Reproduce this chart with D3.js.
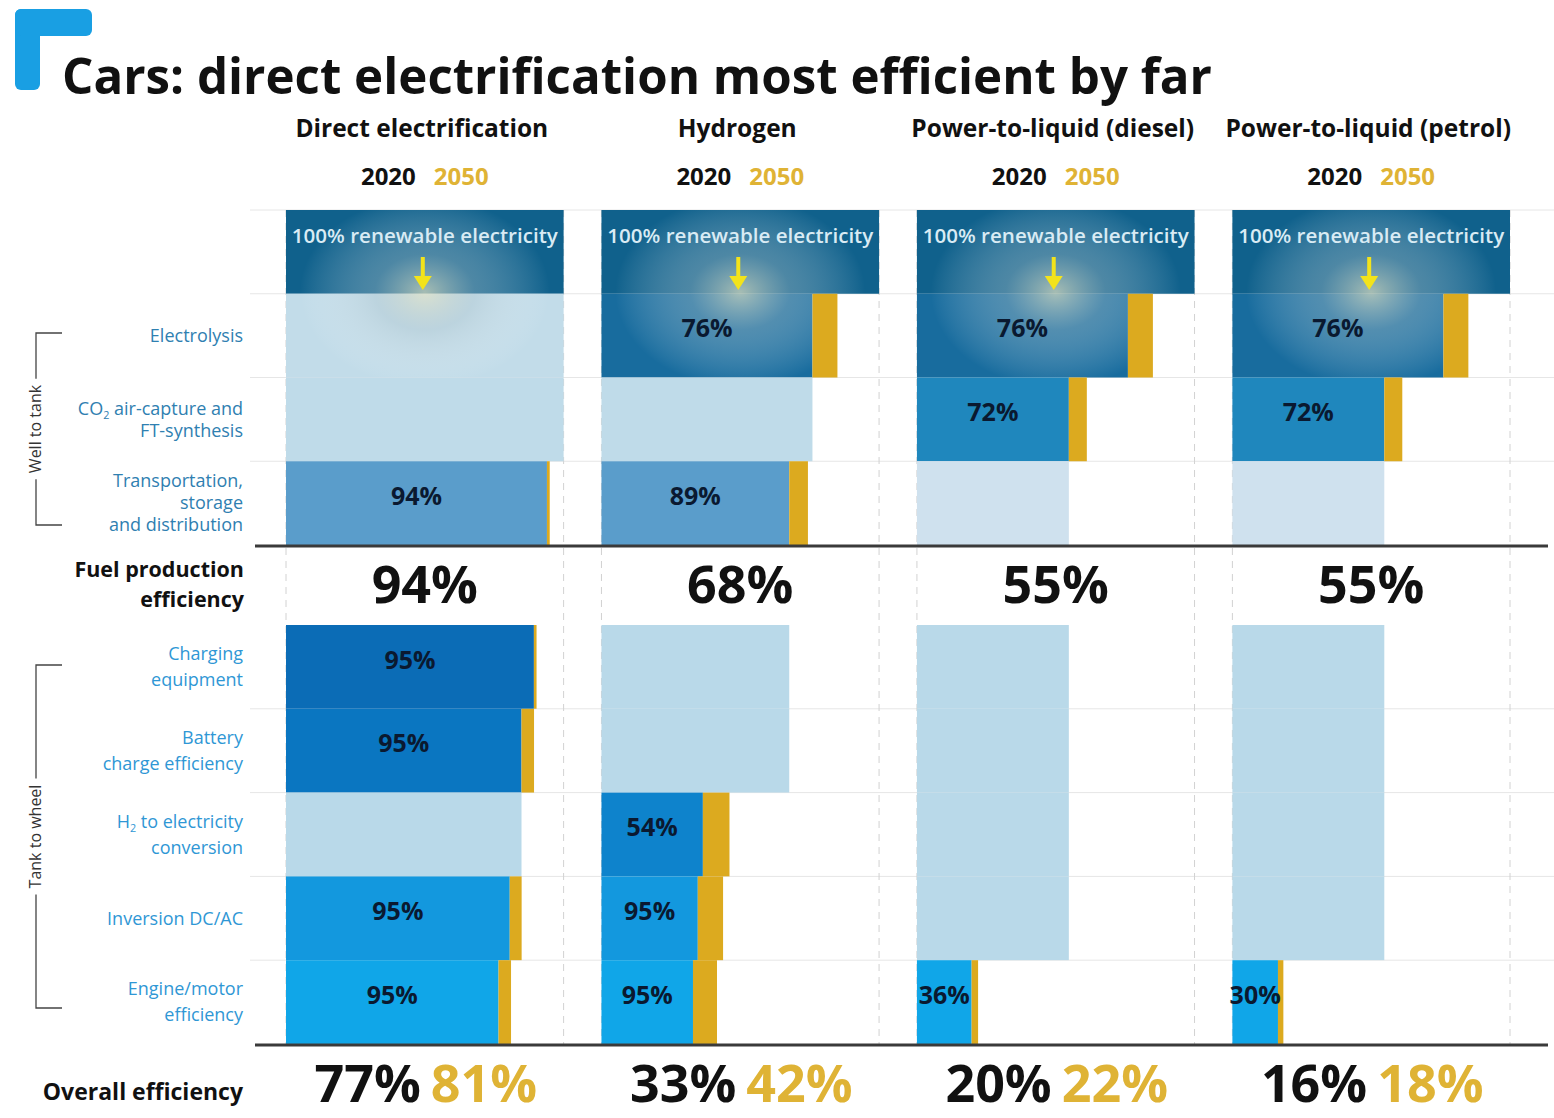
<!DOCTYPE html>
<html><head><meta charset="utf-8">
<script src="https://cdn.jsdelivr.net/npm/d3@7"></script>
<style>
body{margin:0;background:#fff;}
svg{display:block;font-family:"Open Sans","Noto Sans",sans-serif;}
</style>
</head><body>
<svg id="chart" width="1554" height="1118"></svg>
<script>
// ---------------- data ----------------
const title = "Cars: direct electrification most efficient by far";
const pathways = ["Direct electrification", "Hydrogen", "Power-to-liquid (diesel)", "Power-to-liquid (petrol)"];
const years = ["2020", "2050"];
const sourceLabel = "100% renewable electricity";
const wellSteps = ["Electrolysis", "CO_2 air-capture and|FT-synthesis", "Transportation,|storage|and distribution"];
const wheelSteps = ["Charging|equipment", "Battery|charge efficiency", "H_2 to electricity|conversion", "Inversion DC/AC", "Engine/motor|efficiency"];
// step efficiencies (null = step not part of the pathway); order = wellSteps then wheelSteps
const directElec2020 = [null, null, 0.94, 0.95, 0.95, null, 0.95, 0.95];
const directElec2050 = [null, null, 0.95, 0.95, 0.99, null, 0.95, 0.955];
const hydrogen2020   = [0.76, null, 0.89, null, null, 0.54, 0.95, 0.95];
const hydrogen2050   = [0.85, null, 0.875, null, null, 0.62, 0.95, 0.95];
const ptlDiesel2020  = [0.76, 0.72, null, null, null, null, null, 0.36];
const ptlDiesel2050  = [0.85, 0.72, null, null, null, null, null, 0.36];
const ptlPetrol2020  = [0.76, 0.72, null, null, null, null, null, 0.30];
const ptlPetrol2050  = [0.85, 0.72, null, null, null, null, null, 0.30];
const fuelProduction = [0.94, 0.68, 0.55, 0.55];
const overall2020 = [0.77, 0.33, 0.20, 0.16];
const overall2050 = [0.81, 0.42, 0.22, 0.18];

// ---------------- styles ----------------
const stepColors = ["#186c9e", "#1f87bd", "#5a9dcb", "#0b6cb6", "#0a76c1", "#0e83cc", "#1398de", "#10a6e8"];
const lightColors = ["#c2dce9", "#bfdbe9", "#cfe1ee", "#b9d9e9", "#b9d9e9", "#b9d9e9", "#b9d9e9", "#b9d9e9"];
const gold = "#dcaa1f";
const goldText = "#dfb335";
const labelBlueTop = "#2f80b1";
const labelBlueBot = "#2f97d5";
const pct = d3.format(".0%");

const series2020 = [directElec2020, hydrogen2020, ptlDiesel2020, ptlPetrol2020];
const series2050 = [directElec2050, hydrogen2050, ptlDiesel2050, ptlPetrol2050];
const steps = [...wellSteps, ...wheelSteps];

const svg = d3.select("#chart");
const defs = svg.append("defs");
const glow = defs.append("radialGradient").attr("id", "glow");
glow.append("stop").attr("offset", "0%").attr("stop-color", "#e6e4c4").attr("stop-opacity", 0.7);
glow.append("stop").attr("offset", "40%").attr("stop-color", "#b2c6cd").attr("stop-opacity", 0.38);
glow.append("stop").attr("offset", "100%").attr("stop-color", "#ffffff").attr("stop-opacity", 0);

// ---------------- scales ----------------
const panel = d3.scaleBand().domain(pathways).range([286, 1510]).paddingInner(0.12);
const topRows = ["source", ...wellSteps];
const yTop = d3.scaleBand().domain(topRows).range([210, 545]);
const yBot = d3.scaleBand().domain(wheelSteps).range([625, 1044]);
const yStep = s => wellSteps.includes(s) ? yTop(s) : yBot(s);
const rowH = yTop.bandwidth();
const xOf = p => d3.scaleLinear().domain([0, 1]).range([panel(p), panel(p) + panel.bandwidth()]);

// ---------------- title ----------------
svg.append("rect").attr("x", 15).attr("y", 9).attr("width", 25).attr("height", 81).attr("rx", 6).attr("fill", "#199fe3");
svg.append("rect").attr("x", 15).attr("y", 9).attr("width", 77).attr("height", 27).attr("rx", 6).attr("fill", "#199fe3");
svg.append("text").attr("x", 62).attr("y", 94).attr("font-size", 51).attr("font-weight", 700)
  .attr("fill", "#111").attr("textLength", 1150).attr("lengthAdjust", "spacingAndGlyphs").text(title);

// ---------------- grid ----------------
const grid = svg.append("g");
const bounds = [210, ...wellSteps.map(s => yTop(s)), ...wheelSteps.map(s => yBot(s)).slice(1)];
grid.selectAll("line.h").data(bounds).join("line")
  .attr("x1", 250).attr("x2", 1554).attr("y1", d => d).attr("y2", d => d)
  .attr("stroke", "#e6e6e6").attr("stroke-width", 1);
pathways.forEach(p => {
  const x = xOf(p);
  [0, 1].forEach(v => grid.append("line").attr("x1", x(v)).attr("x2", x(v)).attr("y1", 210).attr("y2", 1045)
    .attr("stroke", "#d2d2d2").attr("stroke-dasharray", "7,6"));
});

// ---------------- headers ----------------
pathways.forEach(p => {
  const cx = panel(p) + panel.bandwidth() / 2;
  svg.append("text").attr("x", cx - 3).attr("y", 137).attr("text-anchor", "middle")
    .attr("font-size", 24.5).attr("font-weight", 700).attr("fill", "#111").text(p);
  svg.append("text").attr("x", cx - 9).attr("y", 185).attr("text-anchor", "end")
    .attr("font-size", 24).attr("font-weight", 700).attr("fill", "#111").text(years[0]);
  svg.append("text").attr("x", cx + 9).attr("y", 185).attr("text-anchor", "start")
    .attr("font-size", 24).attr("font-weight", 700).attr("fill", goldText).text(years[1]);
});

// ---------------- rich text helper ----------------
function addRich(textSel, str, size) {
  const parts = str.split("_2");
  parts.forEach((part, i) => {
    if (i > 0) {
      textSel.append("tspan").attr("font-size", size * 0.6).attr("dy", size * 0.22).text("2");
      textSel.append("tspan").attr("dy", -size * 0.22).text(part);
    } else textSel.append("tspan").text(part);
  });
}

// ---------------- left labels ----------------
steps.forEach((s, i) => {
  const lines = s.split("|");
  const isTop = wellSteps.includes(s);
  const lh = isTop ? 22 : 26;
  const size = 18;
  const cy = yStep(s) + rowH / 2;
  lines.forEach((ln, j) => {
    const t = svg.append("text").attr("x", 243).attr("text-anchor", "end")
      .attr("y", cy + (j - (lines.length - 1) / 2) * lh + size * 0.35)
      .attr("font-size", size).attr("fill", isTop ? labelBlueTop : labelBlueBot);
    addRich(t, ln, size);
  });
});
svg.append("text").attr("x", 244).attr("y", 577).attr("text-anchor", "end").attr("font-size", 21.5)
  .attr("font-weight", 700).attr("fill", "#111").text("Fuel production");
svg.append("text").attr("x", 244).attr("y", 607).attr("text-anchor", "end").attr("font-size", 21.5)
  .attr("font-weight", 700).attr("fill", "#111").text("efficiency");
svg.append("text").attr("x", 243).attr("y", 1100).attr("text-anchor", "end").attr("font-size", 23)
  .attr("font-weight", 700).attr("fill", "#111").text("Overall efficiency");

// brackets
function bracket(y0, y1, label) {
  const g = svg.append("g");
  const mid = (y0 + y1) / 2;
  const t = g.append("text").attr("transform", `translate(41,${mid}) rotate(-90)`).attr("text-anchor", "middle")
    .attr("font-size", 16).attr("fill", "#333").text(label);
  const len = t.node().getComputedTextLength() + 12;
  g.append("path").attr("fill", "none").attr("stroke", "#444").attr("stroke-width", 1.3)
    .attr("d", `M62,${y0}H36V${mid - len / 2}M36,${mid + len / 2}V${y1}H62`);
}
bracket(333, 525, "Well to tank");
bracket(665, 1008, "Tank to wheel");

// ---------------- bars ----------------
pathways.forEach((p, pi) => {
  const x = xOf(p);
  const g = svg.append("g");
  // source row
  const ys = yTop("source");
  g.append("rect").attr("x", x(0)).attr("y", ys).attr("width", x(1) - x(0)).attr("height", rowH).attr("fill", "#10618c");

  let c20 = 1, c50 = 1;
  const rows = steps.map((s, i) => {
    const v20 = series2020[pi][i], v50 = series2050[pi][i];
    if (v20 == null) return { s, i, applies: false, c20 };
    c20 *= v20; c50 *= v50;
    return { s, i, applies: true, c20, c50, v20 };
  });
  rows.forEach(r => {
    const y = yStep(r.s);
    g.append("rect").attr("x", x(0)).attr("y", y).attr("width", x(r.c20) - x(0)).attr("height", rowH)
      .attr("fill", r.applies ? stepColors[r.i] : lightColors[r.i]);
    if (r.applies) {
      g.append("rect").attr("x", x(r.c20)).attr("y", y).attr("width", x(r.c50) - x(r.c20)).attr("height", rowH).attr("fill", gold);
    }
  });

  // glow under the arrow
  const clipId = "clip" + pi;
  const cp = defs.append("clipPath").attr("id", clipId);
  cp.append("rect").attr("x", x(0)).attr("y", ys).attr("width", x(1) - x(0)).attr("height", rowH);
  cp.append("rect").attr("x", x(0)).attr("y", yTop(wellSteps[0])).attr("width", x(rows[0].c20) - x(0)).attr("height", rowH);
  g.append("ellipse").attr("clip-path", `url(#${clipId})`).attr("cx", x(0.5)).attr("cy", 292)
    .attr("rx", 125).attr("ry", 95).attr("fill", "url(#glow)");

  g.append("text").attr("x", x(0.5)).attr("y", ys + 33).attr("text-anchor", "middle")
    .attr("font-size", 19.5).attr("font-weight", 600).attr("fill", "#d9ebf4")
    .attr("textLength", 266).attr("lengthAdjust", "spacingAndGlyphs").text(sourceLabel);
  const ax = x(0.5) - 2;
  g.append("line").attr("x1", ax).attr("x2", ax).attr("y1", 257).attr("y2", 280).attr("stroke", "#f3e31b").attr("stroke-width", 4);
  g.append("path").attr("d", `M${ax - 9},${276}L${ax + 9},${276}L${ax},${290}Z`).attr("fill", "#f3e31b");

  // value labels
  rows.filter(r => r.applies).forEach(r => {
    g.append("text").attr("x", (x(0) + x(r.c20)) / 2).attr("y", yStep(r.s) + rowH / 2 - 7)
      .attr("dy", "0.35em").attr("text-anchor", "middle").attr("font-size", 25).attr("font-weight", 700)
      .attr("fill", "#0a1930").text(pct(r.v20));
  });

  const cx = x(0.5);
  svg.append("text").attr("x", cx).attr("y", 603).attr("text-anchor", "middle").attr("font-size", 52)
    .attr("font-weight", 700).attr("fill", "#111").text(pct(fuelProduction[pi]));
  svg.append("text").attr("x", cx - 4).attr("y", 1102).attr("text-anchor", "end").attr("font-size", 52)
    .attr("font-weight", 700).attr("fill", "#111").text(pct(overall2020[pi]));
  svg.append("text").attr("x", cx + 6).attr("y", 1102).attr("text-anchor", "start").attr("font-size", 52)
    .attr("font-weight", 700).attr("fill", goldText).text(pct(overall2050[pi]));
});

// thick rules
[546, 1045].forEach(y => svg.append("line").attr("x1", 255).attr("x2", 1548).attr("y1", y).attr("y2", y)
  .attr("stroke", "#3a3a3a").attr("stroke-width", 3));
</script>
</body></html>
